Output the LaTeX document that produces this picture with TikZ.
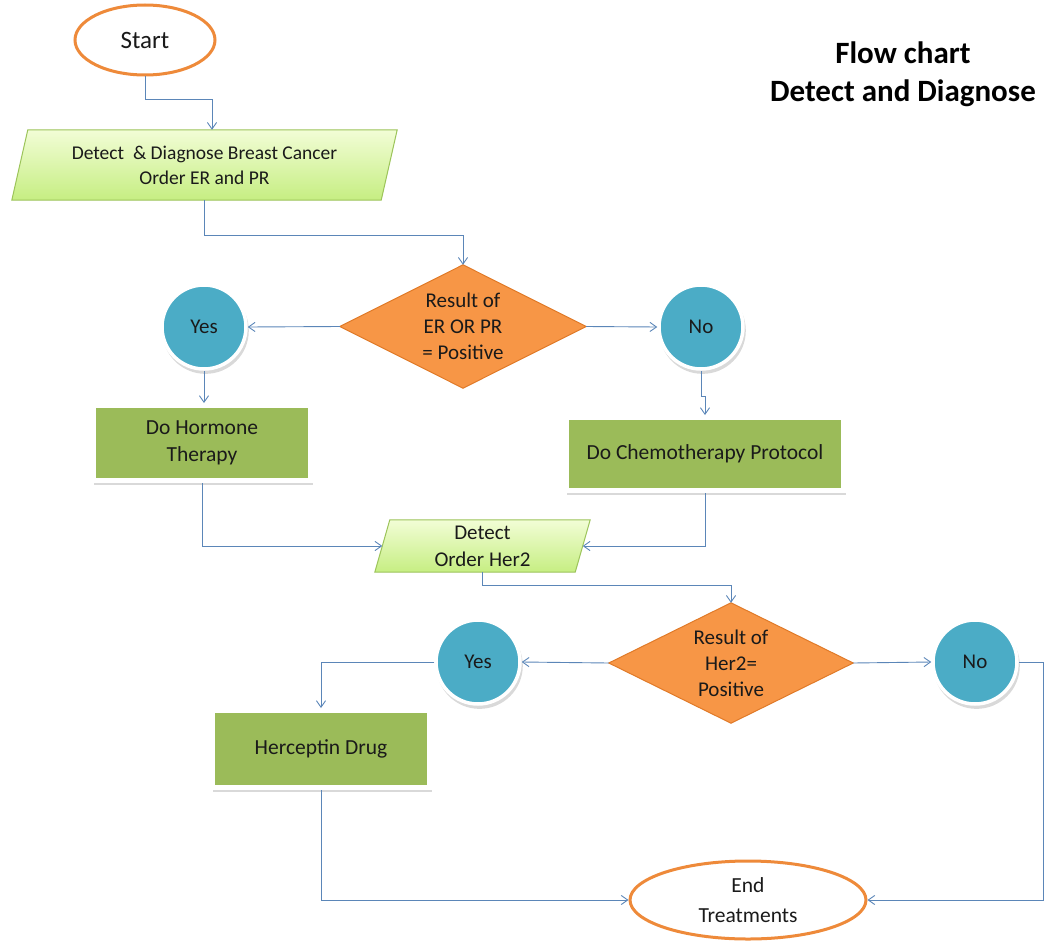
\documentclass[tikz,border=0pt]{standalone}
\usepackage{fontspec}
\setmainfont{Carlito}
\usetikzlibrary{shapes.geometric,arrows.meta,shadows,backgrounds}
\definecolor{connc}{HTML}{5B86B8}
\definecolor{orangeb}{HTML}{EE8A3A}
\definecolor{diafill}{HTML}{F79646}
\definecolor{diadraw}{HTML}{E07A28}
\definecolor{circfill}{HTML}{4BACC6}
\definecolor{greenfill}{HTML}{9BBB59}
\definecolor{paratop}{HTML}{F2FDD6}
\definecolor{parabot}{HTML}{C6EE82}
\definecolor{paradraw}{HTML}{9CC45A}
\definecolor{txt}{HTML}{1A1A1A}
\tikzset{
  conn/.style={draw=connc, line width=0.9pt, -{Straight Barb[angle=70:8pt, line width=0.9pt]}},
  terminal/.style={ellipse, draw=orangeb, line width=3pt, fill=white, inner sep=0pt, align=center, text=txt},
  decision/.style={rectangle, inner sep=0pt, align=center, text=txt, font=\fontsize{21}{26}\selectfont},
  diabox/.style={draw=diadraw, line width=1pt, fill=diafill},
  answer/.style={circle, minimum size=84pt, inner sep=0pt, fill=circfill, draw=white, line width=3.5pt, text=txt,
     drop shadow={shadow xshift=1.5pt, shadow yshift=-3.5pt, opacity=0.3, shadow scale=1.03}, font=\fontsize{21}{25}\selectfont},
  process/.style={rectangle, inner sep=0pt, fill=greenfill, draw=white, line width=5pt, align=center, text=txt,
     drop shadow={shadow xshift=1.5pt, shadow yshift=-4.5pt, opacity=0.3, shadow scale=1.01}, font=\fontsize{21.5}{27}\selectfont},
  iotext/.style={rectangle, inner sep=0pt, align=center, text=txt},
  iobox/.style={draw=paradraw, line width=1pt, top color=paratop, bottom color=parabot},
}
\begin{document}
\begin{tikzpicture}[x=1pt, y=-1pt]
\useasboundingbox (0,0) rectangle (1044,942);

% title
\node[align=center, font=\bfseries\fontsize{31}{38}\selectfont, text=black] (title) at (903,74) {Flow chart\\Detect and Diagnose};

% nodes
\node[terminal, minimum width=140pt, minimum height=70pt, font=\fontsize{25}{30}\selectfont] (start) at (145,40) {Start};

\node[iotext, minimum width=369pt, minimum height=70pt, font=\fontsize{19.5}{25}\selectfont] (p1) at (204.5,165) {Detect \ \& Diagnose Breast Cancer\\Order ER and PR};

\node[decision, minimum width=246pt, minimum height=123pt] (d1) at (463,326.5) {Result of\\ER OR PR\\= Positive};

\node[answer] (y1) at (204,327) {Yes};
\node[answer] (n1) at (701,327) {No};

\node[process, minimum width=217pt, minimum height=75pt] (h) at (202,443) {Do Hormone\\Therapy};
\node[process, minimum width=277pt, minimum height=73pt] (chem) at (705,454) {Do Chemotherapy Protocol};

\node[iotext, minimum width=200pt, minimum height=52pt, font=\fontsize{21}{27}\selectfont] (p2) at (482.5,546) {Detect\\Order Her2};

\node[decision, minimum width=244pt, minimum height=120pt] (d2) at (731,663) {Result of\\Her2=\\Positive};

\node[answer] (y2) at (478,662) {Yes};
\node[answer] (n2) at (975,662) {No};

\node[process, minimum width=217pt, minimum height=77pt] (herc) at (321,749) {Herceptin Drug};

\node[terminal, minimum width=236pt, minimum height=78pt, font=\fontsize{21.5}{30}\selectfont] (end) at (748,900) {End\\Treatments};

% parallelogram and diamond outlines
\begin{scope}[on background layer]
\draw[iobox] ([xshift=8pt]p1.north west) -- ([xshift=8pt]p1.north east) -- ([xshift=-8pt]p1.south east) -- ([xshift=-8pt]p1.south west) -- cycle;
\draw[iobox] ([xshift=7.5pt]p2.north west) -- ([xshift=7.5pt]p2.north east) -- ([xshift=-7.5pt]p2.south east) -- ([xshift=-7.5pt]p2.south west) -- cycle;
\draw[diabox] (d1.north) -- (d1.east) -- (d1.south) -- (d1.west) -- cycle;
\draw[diabox] (d2.north) -- (d2.east) -- (d2.south) -- (d2.west) -- cycle;
\end{scope}

% connectors
\draw[conn] (start.south) -- ++(0,23) -| ([xshift=7.5pt]p1.north);
\draw[conn] (p1.south) -- ++(0,35) -| (d1.north);
\draw[conn] (d1.west) -- (y1.east);
\draw[conn] (d1.east) -- (n1.west);
\draw[conn] (y1.south) -- (y1.south |- h.north);
\draw[conn] (n1.south) -- ++(0,26) -| (chem.north);
\draw[conn] (h.south) |- (p2.west);
\draw[conn] (chem.south) |- (p2.east);
\draw[conn] (p2.south) -- ++(0,13) -| (d2.north);
\draw[conn] (d2.west) -- (y2.east);
\draw[conn] (d2.east) -- (n2.west);
\draw[conn] (y2.west) -| (herc.north);
\draw[conn] (herc.south) |- (end.west);
\draw[conn] (n2.east) -- ++(25,0) |- (end.east);
\end{tikzpicture}
\end{document}
